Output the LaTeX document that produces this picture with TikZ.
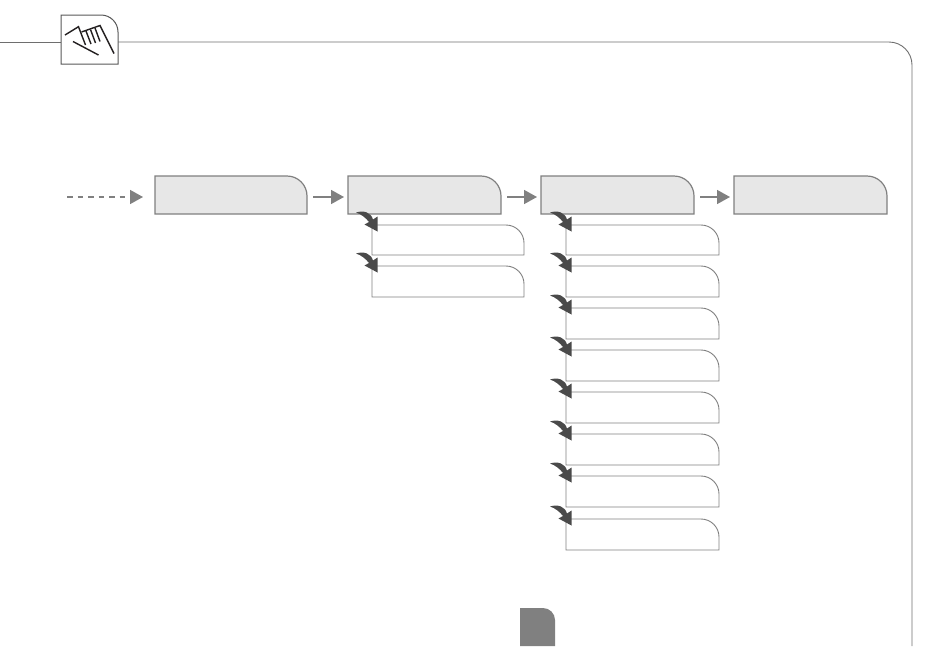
\documentclass[tikz,border=0pt]{standalone}
\usetikzlibrary{arrows.meta}
\definecolor{boxline}{HTML}{808080}
\definecolor{boxfill}{HTML}{E7E7E7}
\definecolor{hookc}{HTML}{4A4A4A}
\definecolor{framec}{HTML}{6E6E6E}
\definecolor{iconc}{HTML}{231F20}
\tikzset{
  mainoutline/.style={draw=boxline,fill=boxfill,line width=1.2pt},
  suboutline/.style={draw=boxline,fill=white,line width=0.9pt},
  flow/.style={draw=boxline,line width=1.6pt,-{Triangle[length=13pt,width=14pt,fill=boxline]},shorten <=6pt,shorten >=4pt},
  dashflow/.style={flow,shorten <=0pt,shorten >=12pt,dash pattern=on 5.5pt off 5pt},
  hookarrow/.style={fill=hookc,draw=none},
  frameline/.style={draw=framec,line width=0.9pt},
  handline/.style={draw=iconc,line width=1.4pt,line cap=butt,line join=miter},
}
% \tabbox{name}{left}{top}{right}{bottom}{style}{radius}
\newcommand{\tabbox}[7]{%
  \node[inner sep=0pt,outer sep=0pt,minimum width={(#4-#2)*1pt},minimum height={(#5-#3)*1pt}] (#1) at ({(#2+#4)/2},{(#3+#5)/2}) {};
  \draw[#6] (#1.south west) -- (#1.north west) -- ([xshift=-#7 pt]#1.north east) arc[start angle=90,end angle=0,radius=#7 pt] -- (#1.south east) -- cycle;
}
% curved arrow ending on the top-left corner of a child box (raw pt shifts: +y is up)
\newcommand{\hook}[1]{%
  \coordinate (#1tail) at ([shift={(-16pt,12.5pt)}]#1.north west);
  \draw[hookarrow] (#1tail)
    .. controls ([shift={(-8pt,15pt)}]#1.north west) and ([shift={(-1pt,12.5pt)}]#1.north west) .. ([shift={(1pt,5.5pt)}]#1.north west)
    -- ([shift={(5.5pt,8.5pt)}]#1.north west)
    -- ([shift={(5.5pt,-6.5pt)}]#1.north west)
    -- ([shift={(-7.5pt,0.5pt)}]#1.north west)
    -- ([shift={(-3pt,3pt)}]#1.north west)
    .. controls ([shift={(-6pt,7pt)}]#1.north west) and ([shift={(-11pt,11pt)}]#1.north west) .. (#1tail) -- cycle;
}
\begin{document}
\begin{tikzpicture}[x=1pt,y=-1pt]
\useasboundingbox (0,0) rectangle (950,646);
% frame
\coordinate (fa) at (0,42);
\coordinate (fb) at (61,42);
\coordinate (fc) at (118,42);
\coordinate (fd) at (912,646);
\draw[frameline] (fa) -- (fb);
\draw[frameline] (fc) -- (889,42) arc[start angle=90,end angle=0,radius=23pt] -- (fd);
% icon box
\tabbox{icon}{61}{15}{118}{64}{draw=framec!80!black,fill=white,line width=1pt}{17}
% hand
\draw[handline] (65,35) -- (78.5,26.7) -- (85.5,45);
\draw[handline] (81.5,32) -- (100,25.5) -- (114,53.5);
\draw[handline] (86,31) -- (91,44);
\draw[handline] (90.5,29.5) -- (95.5,43);
\draw[handline] (95,28) -- (100,41.5);
\draw[handline] (73,41.5) -- (98.5,55);
% main row
\tabbox{m1}{155}{176}{307}{214}{mainoutline}{20}
\tabbox{m2}{348}{176}{501}{214}{mainoutline}{20}
\tabbox{m3}{541}{176}{694}{214}{mainoutline}{20}
\tabbox{m4}{734}{176}{887}{214}{mainoutline}{20}
\coordinate (start) at (67,197);
\draw[dashflow] (start) -- ([yshift=-2pt]m1.west);
\draw[flow] ([yshift=-2pt]m1.east) -- ([yshift=-2pt]m2.west);
\draw[flow] ([yshift=-2pt]m2.east) -- ([yshift=-2pt]m3.west);
\draw[flow] ([yshift=-2pt]m3.east) -- ([yshift=-2pt]m4.west);
% sub boxes, second column
\tabbox{a1}{372}{225}{524}{255}{suboutline}{18}
\tabbox{a2}{372}{266}{524}{297}{suboutline}{18}
% sub boxes, third column
\tabbox{b1}{566}{225}{719}{255}{suboutline}{18}
\tabbox{b2}{566}{266}{719}{297}{suboutline}{18}
\tabbox{b3}{566}{308}{719}{339}{suboutline}{18}
\tabbox{b4}{566}{350}{719}{381}{suboutline}{18}
\tabbox{b5}{566}{392}{719}{423}{suboutline}{18}
\tabbox{b6}{566}{434}{719}{465}{suboutline}{18}
\tabbox{b7}{566}{476}{719}{507}{suboutline}{18}
\tabbox{b8}{566}{519}{719}{550}{suboutline}{18}
\foreach \n in {a1,a2,b1,b2,b3,b4,b5,b6,b7,b8}{\hook{\n}}
% page tab
\fill[boxline] (520,646) -- (520,608) -- (543,608) arc[start angle=90,end angle=0,radius=12pt] -- (555,646) -- cycle;
\end{tikzpicture}
\end{document}
